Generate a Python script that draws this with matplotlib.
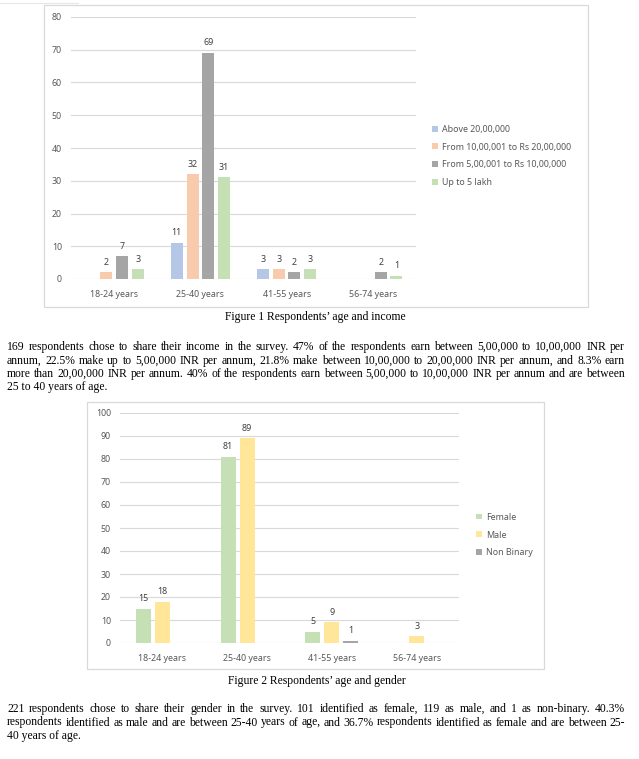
import numpy as np
import matplotlib
matplotlib.use('Agg')
import matplotlib.pyplot as plt
from matplotlib.patches import Rectangle
from matplotlib.lines import Line2D

W, H = 639, 759

# chart 1 data - age vs income
ages = ['18-24 years', '25-40 years', '41-55 years', '56-74 years']
income_labels = ['Above 20,00,000', 'From 10,00,001 to Rs 20,00,000',
                 'From 5,00,001 to Rs 10,00,000', 'Up to 5 lakh']
above_20 = [np.nan, 11, 3, np.nan]
from_10 = [2, 32, 3, np.nan]
from_5 = [7, 69, 2, 2]
upto_5 = [3, 31, 3, 1]

# chart 2 data - age vs gender
gender_labels = ['Female', 'Male', 'Non Binary']
female = [15, 81, 5, np.nan]
male = [18, 89, 9, 3]
non_binary = [np.nan, np.nan, 1, np.nan]

caption1 = 'Figure 1 Respondents\u2019 age and income'
caption2 = 'Figure 2 Respondents\u2019 age and gender'
para1 = ['169 respondents chose to share their income in the survey. 47% of the respondents earn between 5,00,000 to 10,00,000 INR per',
         'annum, 22.5% make up to 5,00,000 INR per annum, 21.8% make between 10,00,000 to 20,00,000 INR per annum, and 8.3% earn',
         'more than 20,00,000 INR per annum. 40% of the respondents earn between 5,00,000 to 10,00,000 INR per annum and are between',
         '25 to 40 years of age.']
para2 = ['221 respondents chose to share their gender in the survey. 101 identified as female, 119 as male, and 1 as non-binary. 40.3%',
         'respondents identified as male and are between 25-40 years of age, and 36.7% respondents identified as female and are between 25-',
         '40 years of age.']

plt.rcParams['font.family'] = ['Noto Sans', 'DejaVu Sans']
fig = plt.figure(figsize=(W / 100, H / 100), dpi=100)
fig.patch.set_facecolor('white')

GRID = '#D9D9D9'
TXT = '#595959'
FS = 6.4


def px_rect(l, r, top, bottom):
    return [l / W, 1 - bottom / H, (r - l) / W, (bottom - top) / H]


def box(l, r, top, bottom):
    fig.add_artist(Rectangle((l / W, 1 - bottom / H), (r - l) / W, (bottom - top) / H,
                             transform=fig.transFigure, fill=False, ec=GRID, lw=0.9))


def bar_chart(rect, series, colors, names, width, step, ymax, legend_xy):
    ax = fig.add_axes(rect)
    x = np.arange(len(ages))
    n = len(series)
    handles = []
    for i, (vals, c) in enumerate(zip(series, colors)):
        off = (i - (n - 1) / 2) * step
        v = np.array(vals, dtype=float)
        b = ax.bar(x + off, np.nan_to_num(v), width, color=c, zorder=3)
        handles.append(b)
        for xi, vi in zip(x + off, v):
            if not np.isnan(vi):
                ax.annotate(f'{int(vi)}', (xi, vi), xytext=(0, 4), textcoords='offset points',
                            ha='center', va='bottom', fontsize=FS, color='#404040')
    ax.set_xlim(-0.5, len(ages) - 0.5)
    ax.set_ylim(0, ymax)
    ax.set_yticks(np.arange(0, ymax + 1, 10))
    ax.set_xticks(x)
    ax.set_xticklabels(ages)
    ax.yaxis.grid(True, color=GRID, lw=0.8, zorder=0)
    for s in ax.spines.values():
        s.set_visible(False)
    ax.tick_params(length=0, labelsize=FS, colors=TXT)
    ax.tick_params(axis='y', pad=6.5)
    ax.tick_params(axis='x', pad=8)
    fig.legend(handles, names, loc='center left', bbox_to_anchor=legend_xy,
               frameon=False, fontsize=FS, labelcolor=TXT, handlelength=0.65,
               handleheight=0.65, handletextpad=0.45, labelspacing=1.0,
               borderpad=0, borderaxespad=0)
    return ax


# chart 1
box(44, 588, 5, 307)
bar_chart(px_rect(71, 416, 17, 279), [above_20, from_10, from_5, upto_5],
          ['#B4C7E7', '#F8CBAD', '#A5A5A5', '#C5E0B4'], income_labels,
          0.139, 0.182, 80, (432 / W, 1 - 156 / H))

# chart 2
box(87, 544, 402, 669)
bar_chart(px_rect(120, 459, 413, 643), [female, male, non_binary],
          ['#C5E0B4', '#FFE699', '#A5A5A5'], gender_labels,
          0.177, 0.224, 100, (476 / W, 1 - 535 / H))

# faint line from the box on the previous page
fig.add_artist(Line2D([0, 78 / W], [1 - 3 / H, 1 - 3 / H], transform=fig.transFigure,
                      color='#E6E6E6', lw=0.8))

serif = dict(family='Liberation Serif', fontsize=8.4, color='black')
fig.text(315 / W, 1 - 320 / H, caption1, ha='center', va='baseline', **serif)
fig.text(317 / W, 1 - 684 / H, caption2, ha='center', va='baseline', **serif)

renderer = fig.canvas.get_renderer()


def justify(lines, x0, x1, y0, dy):
    # word by word placement to get justified text like the report
    for i, line in enumerate(lines):
        y = 1 - (y0 + i * dy) / H
        if i == len(lines) - 1:
            fig.text(x0 / W, y, line, ha='left', va='baseline', **serif)
            continue
        words = line.split(' ')
        ts = [fig.text(0, y, w, ha='left', va='baseline', **serif) for w in words]
        widths = [t.get_window_extent(renderer).width for t in ts]
        gap = (x1 - x0 - sum(widths)) / (len(words) - 1)
        xp = x0
        for t, w in zip(ts, widths):
            t.set_x(xp / W)
            xp += w + gap


justify(para1, 7, 625, 350, 13.5)
justify(para2, 7, 625, 712, 13.5)

fig.savefig('out.png', dpi=100, facecolor='white')
